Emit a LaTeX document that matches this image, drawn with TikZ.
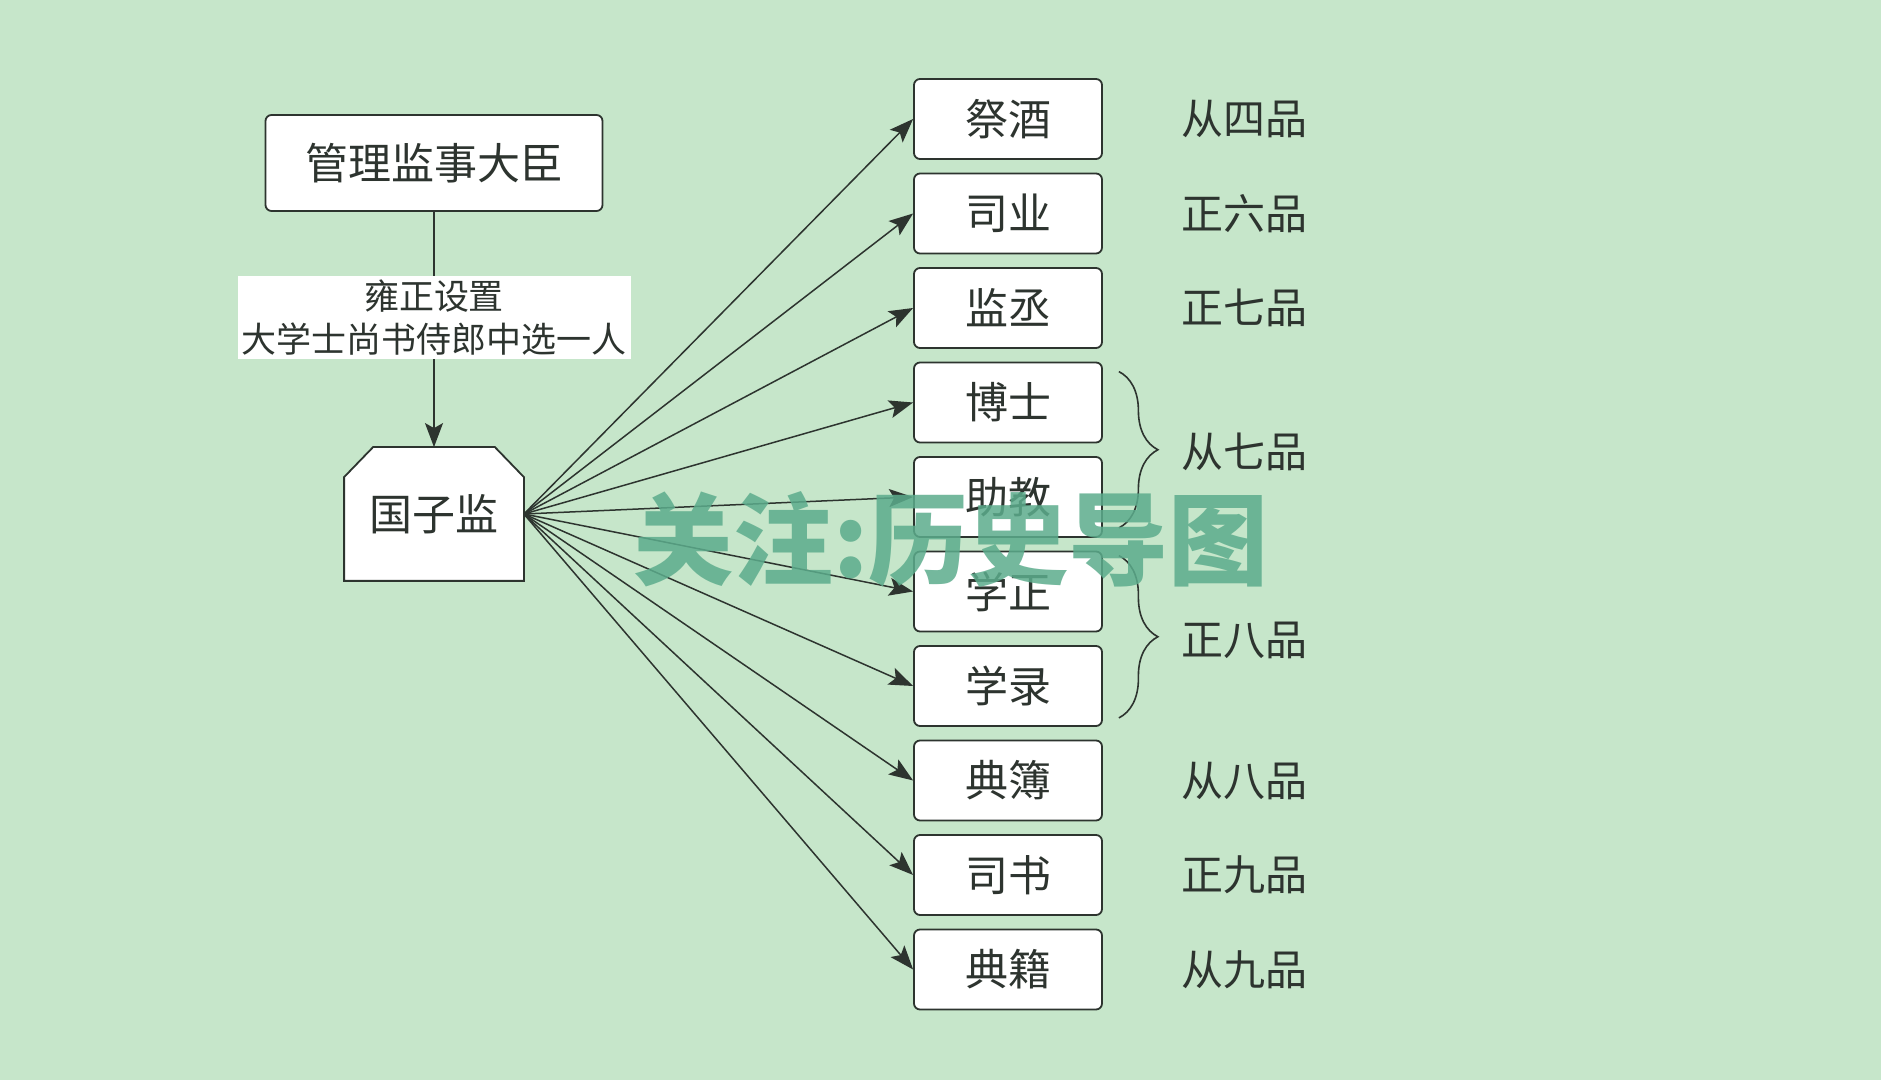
\documentclass[tikz,border=0pt]{standalone}
\usepackage{fontspec}
\setmainfont{Noto Sans CJK SC}
\usepackage{xcolor}
\usepackage{tikz}
\usetikzlibrary{arrows.meta, decorations.pathreplacing}
\pgfdeclarelayer{back}
\pgfsetlayers{back,main}
\definecolor{bg}{RGB}{198,230,202}
\definecolor{ink}{RGB}{45,52,47}
\definecolor{stamp}{RGB}{92,172,140}
\tikzstyle{office} = [rectangle, rounded corners=3pt, minimum width=94pt, minimum height=40pt, text centered, draw=ink, line width=0.9pt, fill=white, text=ink, font=\fontsize{21.5}{24}\selectfont]
\tikzstyle{head} = [office, minimum width=168.5pt, minimum height=48pt]
\tikzstyle{school} = [rectangle, minimum width=89.5pt, minimum height=66.5pt, text=ink, font=\fontsize{21.5}{24}\selectfont]
\tikzstyle{notebox} = [fill=white, inner xsep=2pt, inner ysep=2pt, align=center, text=ink, font=\fontsize{17.5}{21.5}\selectfont]
\tikzstyle{grade} = [text=ink, font=\fontsize{21}{24}\selectfont]
\tikzstyle{arrow} = [line width=0.75pt, draw=ink, -{Stealth[length=12pt, width=9pt, inset=2.5pt]}]
\tikzstyle{brace} = [decorate, decoration={brace, amplitude=19.5pt}, draw=ink, line width=0.8pt]

\begin{document}
\begin{tikzpicture}[x=0.5pt, y=-0.5pt, node distance=47.25pt]
        \begin{pgfonlayer}{back}
        \fill [bg] (0,0) rectangle (1881,1080);
        \end{pgfonlayer}
        \useasboundingbox (0,0) rectangle (1881,1080);
        \node (head) [head] at (434,163) {管理监事大臣};
        \node (school) [school] at (434,514) {国子监};
        \begin{pgfonlayer}{back}
        \filldraw [fill=white, draw=ink, line width=0.9pt] (school.south west) -- ([yshift=-15pt]school.north west) -- ([xshift=14.5pt]school.north west) -- ([xshift=-14.5pt]school.north east) -- ([yshift=-15pt]school.north east) -- (school.south east) -- cycle;
        \end{pgfonlayer}
        \draw [arrow] (head) -- node (note) [pos=0.45, notebox] {雍正设置\\大学士尚书侍郎中选一人} (school);
        \node (jijiu) [office] at (1008,119) {祭酒};
        \node (siye) [office, below of=jijiu] {司业};
        \node (jiancheng) [office, below of=siye] {监丞};
        \node (boshi) [office, below of=jiancheng] {博士};
        \node (zhujiao) [office, below of=boshi] {助教};
        \node (xuezheng) [office, below of=zhujiao] {学正};
        \node (xuelu) [office, below of=xuezheng] {学录};
        \node (dianbu) [office, below of=xuelu] {典簿};
        \node (sishu) [office, below of=dianbu] {司书};
        \node (dianji) [office, below of=sishu] {典籍};
        \draw [arrow] (school.east) -- (jijiu.west);
        \draw [arrow] (school.east) -- (siye.west);
        \draw [arrow] (school.east) -- (jiancheng.west);
        \draw [arrow] (school.east) -- (boshi.west);
        \draw [arrow] (school.east) -- (zhujiao.west);
        \draw [arrow] (school.east) -- (xuezheng.west);
        \draw [arrow] (school.east) -- (xuelu.west);
        \draw [arrow] (school.east) -- (dianbu.west);
        \draw [arrow] (school.east) -- (sishu.west);
        \draw [arrow] (school.east) -- (dianji.west);
        % grades
        \coordinate (gx) at (1244,0);
        \node (g1) [grade] at (jijiu -| gx) {从四品};
        \node (g2) [grade] at (siye -| gx) {正六品};
        \node (g3) [grade] at (jiancheng -| gx) {正七品};
        \draw [brace] ([xshift=8pt, yshift=-5pt]boshi.north east) -- ([xshift=8pt, yshift=5pt]zhujiao.south east);
        \draw [brace] ([xshift=8pt, yshift=-2.5pt]xuezheng.north east) -- ([xshift=8pt, yshift=4.5pt]xuelu.south east);
        \node (g4) [grade] at (1244,452) {从七品};
        \node (g5) [grade] at (1244,640) {正八品};
        \node (g6) [grade] at (dianbu -| gx) {从八品};
        \node (g7) [grade] at (sishu -| gx) {正九品};
        \node (g8) [grade] at (dianji -| gx) {从九品};
        \node (stamp) [text=stamp, text opacity=0.85, font=\fontsize{50}{50}\selectfont\bfseries] at (951,540) {关注:历史导图};
\end{tikzpicture}
\end{document}
